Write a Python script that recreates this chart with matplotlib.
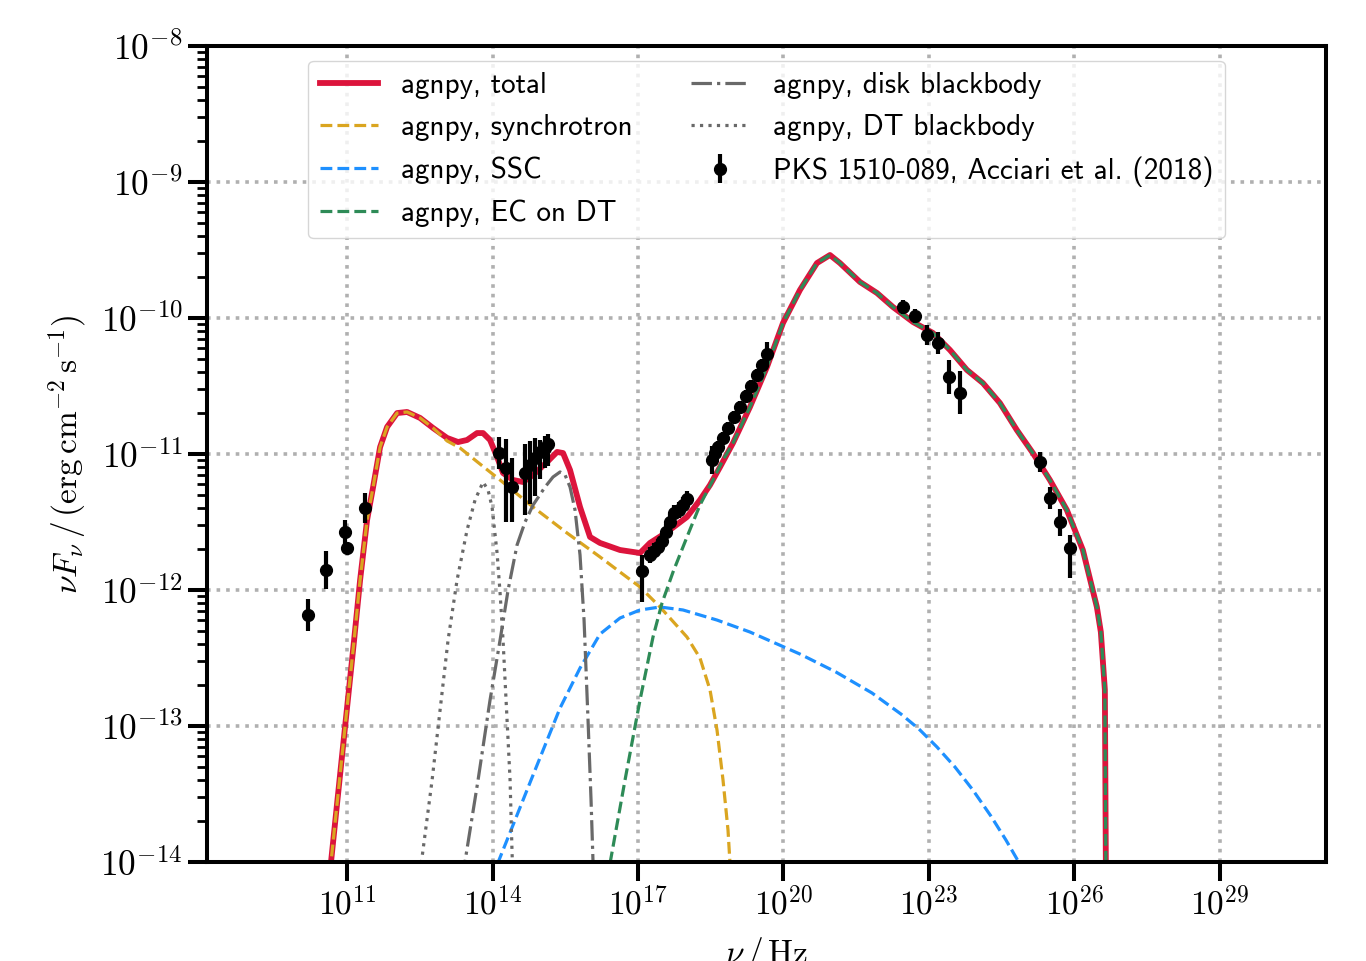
import numpy as np
import matplotlib.pyplot as plt
from matplotlib.ticker import FixedLocator, FuncFormatter, LogLocator, NullLocator, NullFormatter

plt.rcParams['mathtext.fontset'] = 'cm'
plt.rcParams['font.family'] = ['cmss10', 'DejaVu Sans']
plt.rcParams['axes.unicode_minus'] = False

# --- model curves as (log10 nu / Hz, log10 nuFnu / erg cm-2 s-1) ---
log_nu_total = [10.608, 10.897, 11.144, 11.268, 11.412, 11.536, 11.680, 11.825, 12.031, 12.237,
                12.505, 12.773, 13.062, 13.289, 13.474, 13.680, 13.804, 13.948, 14.093, 14.216,
                14.423, 14.629, 14.835, 15.124, 15.330, 15.454, 15.598, 15.804, 16.010, 16.216,
                16.629, 17.041, 17.247, 17.598, 18.010, 18.278, 18.485, 18.691, 18.959, 19.309,
                19.660, 19.990, 20.340, 20.691, 20.959, 21.165, 21.577, 21.928, 22.258, 22.670,
                23.082, 23.433, 23.784, 24.113, 24.464, 24.814, 25.144, 25.495, 25.845, 26.175,
                26.464, 26.546, 26.629, 26.649, 26.650]
log_flux_total = [-14.206, -13.213, -12.368, -11.926, -11.485, -11.243, -10.949, -10.801, -10.699, -10.691,
                  -10.735, -10.809, -10.882, -10.912, -10.897, -10.846, -10.846, -10.897, -11.022, -11.140,
                  -11.191, -11.206, -11.154, -11.059, -10.985, -10.993, -11.118, -11.390, -11.610, -11.654,
                  -11.706, -11.728, -11.654, -11.574, -11.463, -11.338, -11.228, -11.096, -10.919, -10.654,
                  -10.360, -10.037, -9.794, -9.596, -9.537, -9.596, -9.735, -9.816, -9.919, -10.029,
                  -10.110, -10.235, -10.382, -10.478, -10.625, -10.824, -10.993, -11.191, -11.412, -11.706,
                  -12.125, -12.309, -12.735, -14.000, -14.300]

log_nu_synch = [10.608, 10.897, 11.144, 11.268, 11.412, 11.536, 11.680, 11.825, 12.031, 12.237,
                12.505, 12.773, 13.062, 13.330, 13.742, 14.155, 14.835, 15.536, 16.216, 16.629,
                17.041, 17.454, 18.010, 18.278, 18.485, 18.629, 18.753, 18.856, 18.918]
log_flux_synch = [-14.206, -13.213, -12.368, -11.926, -11.485, -11.243, -10.949, -10.801, -10.699, -10.691,
                  -10.735, -10.809, -10.904, -10.956, -11.074, -11.191, -11.390, -11.581, -11.757, -11.868,
                  -11.978, -12.125, -12.346, -12.500, -12.735, -13.029, -13.397, -13.765, -14.132]

log_nu_ssc = [13.969, 14.794, 15.392, 15.804, 16.216, 16.629, 17.041, 17.454, 17.928, 18.629,
              19.309, 20.340, 21.082, 21.825, 22.423, 22.794, 23.165, 23.536, 23.907, 24.278,
              24.588, 24.876, 24.938]
log_flux_ssc = [-14.132, -13.397, -12.868, -12.574, -12.324, -12.206, -12.147, -12.125, -12.147, -12.221,
                -12.309, -12.471, -12.603, -12.757, -12.912, -13.022, -13.154, -13.301, -13.471, -13.662,
                -13.838, -14.015, -14.132]

log_nu_ec_dt = [16.361, 16.732, 17.041, 17.309, 17.495, 17.722, 18.010, 18.278, 18.546, 18.753,
                18.959, 19.309, 19.660, 19.990, 20.340, 20.691, 20.959, 21.165, 21.577, 21.928,
                22.258, 22.670, 23.082, 23.433, 23.784, 24.113, 24.464, 24.814, 25.144, 25.495,
                25.845, 26.175, 26.464, 26.546, 26.629, 26.649, 26.650]
log_flux_ec_dt = [-14.132, -13.397, -12.809, -12.346, -12.096, -11.868, -11.610, -11.375, -11.191, -11.044,
                  -10.919, -10.654, -10.360, -10.037, -9.794, -9.596, -9.537, -9.596, -9.735, -9.816,
                  -9.919, -10.029, -10.110, -10.235, -10.382, -10.478, -10.625, -10.824, -10.993, -11.191,
                  -11.412, -11.706, -12.125, -12.309, -12.735, -14.000, -14.300]

log_nu_disk = [13.371, 13.701, 13.948, 14.155, 14.320, 14.505, 14.670, 14.835, 15.082, 15.247,
               15.392, 15.495, 15.598, 15.701, 15.804, 15.887, 15.969, 16.031, 16.072, 16.093]
log_flux_disk = [-14.132, -13.397, -12.809, -12.368, -12.000, -11.669, -11.500, -11.375, -11.243, -11.169,
                 -11.132, -11.154, -11.243, -11.412, -11.743, -12.221, -12.956, -13.544, -14.000, -14.132]

log_nu_dt = [12.485, 12.753, 13.082, 13.268, 13.474, 13.639, 13.804, 13.907, 13.990, 14.093,
             14.155, 14.216, 14.299, 14.361, 14.402, 14.423]
log_flux_dt = [-14.132, -13.397, -12.368, -11.926, -11.559, -11.338, -11.206, -11.265, -11.390, -11.728,
               -12.022, -12.368, -12.956, -13.397, -13.934, -14.132]

# --- PKS 1510-089 data points (log10), with lower / upper errors in dex ---
log_nu_data = [10.196, 10.567, 10.959, 11.000, 11.371,
               14.134, 14.278, 14.402, 14.670, 14.773, 14.876, 14.979, 15.082, 15.144,
               17.076, 17.247, 17.330, 17.412, 17.495, 17.577, 17.660, 17.742, 17.845, 17.928, 18.010,
               18.520, 18.588, 18.649, 18.753, 18.856, 18.979, 19.103, 19.227, 19.330, 19.454, 19.557, 19.660,
               22.470, 22.711, 22.953, 23.179, 23.406, 23.639,
               25.289, 25.495, 25.701, 25.913]
log_flux_data = [-12.184, -11.853, -11.574, -11.691, -11.397,
                 -10.993, -11.103, -11.243, -11.140, -11.081, -11.029, -10.985, -10.956, -10.926,
                 -11.860, -11.743, -11.713, -11.684, -11.640, -11.574, -11.500, -11.434, -11.412, -11.375, -11.331,
                 -11.044, -10.993, -10.949, -10.882, -10.809, -10.728, -10.654, -10.574, -10.500, -10.419, -10.346, -10.265,
                 -9.921, -9.985, -10.125, -10.182, -10.432, -10.549,
                 -11.057, -11.326, -11.502, -11.693]
err_low_dex = [0.118, 0.14, 0.09, 0.044, 0.11,
               0.118, 0.40, 0.26, 0.31, 0.29, 0.28, 0.20, 0.15, 0.16,
               0.228, 0.06, 0.06, 0.06, 0.06, 0.06, 0.06, 0.06, 0.06, 0.06, 0.06,
               0.10, 0.045, 0.045, 0.045, 0.045, 0.045, 0.045, 0.045, 0.045, 0.045, 0.045, 0.09,
               0.05, 0.05, 0.075, 0.08, 0.125, 0.16,
               0.075, 0.08, 0.10, 0.22]
err_up_dex = [0.118, 0.14, 0.09, 0.044, 0.11,
              0.118, 0.21, 0.21, 0.21, 0.18, 0.15, 0.09, 0.09, 0.07,
              0.118, 0.06, 0.06, 0.06, 0.06, 0.06, 0.06, 0.06, 0.06, 0.06, 0.06,
              0.10, 0.045, 0.045, 0.045, 0.045, 0.045, 0.045, 0.045, 0.045, 0.045, 0.045, 0.09,
              0.05, 0.05, 0.075, 0.08, 0.125, 0.16,
              0.075, 0.08, 0.10, 0.10]


def lin(a):
    return 10.0 ** np.asarray(a)


nu_data = lin(log_nu_data)
flux_data = lin(log_flux_data)
yerr = [flux_data - lin(np.array(log_flux_data) - np.array(err_low_dex)),
        lin(np.array(log_flux_data) + np.array(err_up_dex)) - flux_data]

fig = plt.figure(figsize=(13.66, 9.61), dpi=100)
ax = fig.add_axes([207 / 1366, 1 - 862 / 961, 1119 / 1366, 816 / 961])

ax.plot(lin(log_nu_total), lin(log_flux_total), ls='-', lw=4.2, color='crimson', label='agnpy, total')
ax.plot(lin(log_nu_synch), lin(log_flux_synch), ls='--', lw=2.3, color='goldenrod', label='agnpy, synchrotron')
ax.plot(lin(log_nu_ssc), lin(log_flux_ssc), ls='--', lw=2.3, color='dodgerblue', label='agnpy, SSC')
ax.plot(lin(log_nu_ec_dt), lin(log_flux_ec_dt), ls='--', lw=2.3, color='seagreen', label='agnpy, EC on DT')
ax.plot(lin(log_nu_disk), lin(log_flux_disk), ls='-.', lw=2.3, color='dimgray', label='agnpy, disk blackbody')
ax.plot(lin(log_nu_dt), lin(log_flux_dt), ls=':', lw=2.3, color='dimgray', label='agnpy, DT blackbody')
ax.errorbar(nu_data, flux_data, yerr=yerr, ls='', marker='o', ms=8.5, color='k',
            elinewidth=3, capsize=0, label='PKS 1510-089, Acciari et al. (2018)')

ax.set_xscale('log')
ax.set_yscale('log')
ax.set_xlim(10 ** 8.11, 10 ** 31.19)
ax.set_ylim(1e-14, 1e-8)

ax.xaxis.set_major_locator(FixedLocator(10.0 ** np.arange(11, 30, 3)))
ax.xaxis.set_minor_locator(NullLocator())
ax.yaxis.set_major_locator(LogLocator(base=10, numticks=20))
ax.yaxis.set_minor_locator(LogLocator(base=10, subs=np.arange(2, 10), numticks=20))
ax.yaxis.set_minor_formatter(NullFormatter())
fmt = FuncFormatter(lambda v, p: r'$10^{%d}$' % int(round(np.log10(v))))
ax.xaxis.set_major_formatter(fmt)
ax.yaxis.set_major_formatter(fmt)

ax.tick_params(which='major', length=14, width=2.9, labelsize=24, direction='out')
ax.tick_params(axis='y', which='major', labelsize=25.5)
ax.tick_params(which='minor', length=7, width=2.0, direction='out')
for s in ax.spines.values():
    s.set_linewidth(2.9)

ax.set_xlabel(r'$\nu\,/\,{\rm Hz}$', fontsize=24, labelpad=10)
ax.set_ylabel(r'$\nu F_{\nu}\,/\,({\rm erg}\,{\rm cm}^{-2}\,{\rm s}^{-1})$', fontsize=24, labelpad=8)

ax.grid(True, which='major', ls=':', lw=2.6, color='#b0b0b0')
ax.legend(loc='upper center', ncol=2, fontsize=21, handlelength=2.0, labelspacing=0.52,
          columnspacing=2.0)

fig.savefig('out.png', dpi=100)
